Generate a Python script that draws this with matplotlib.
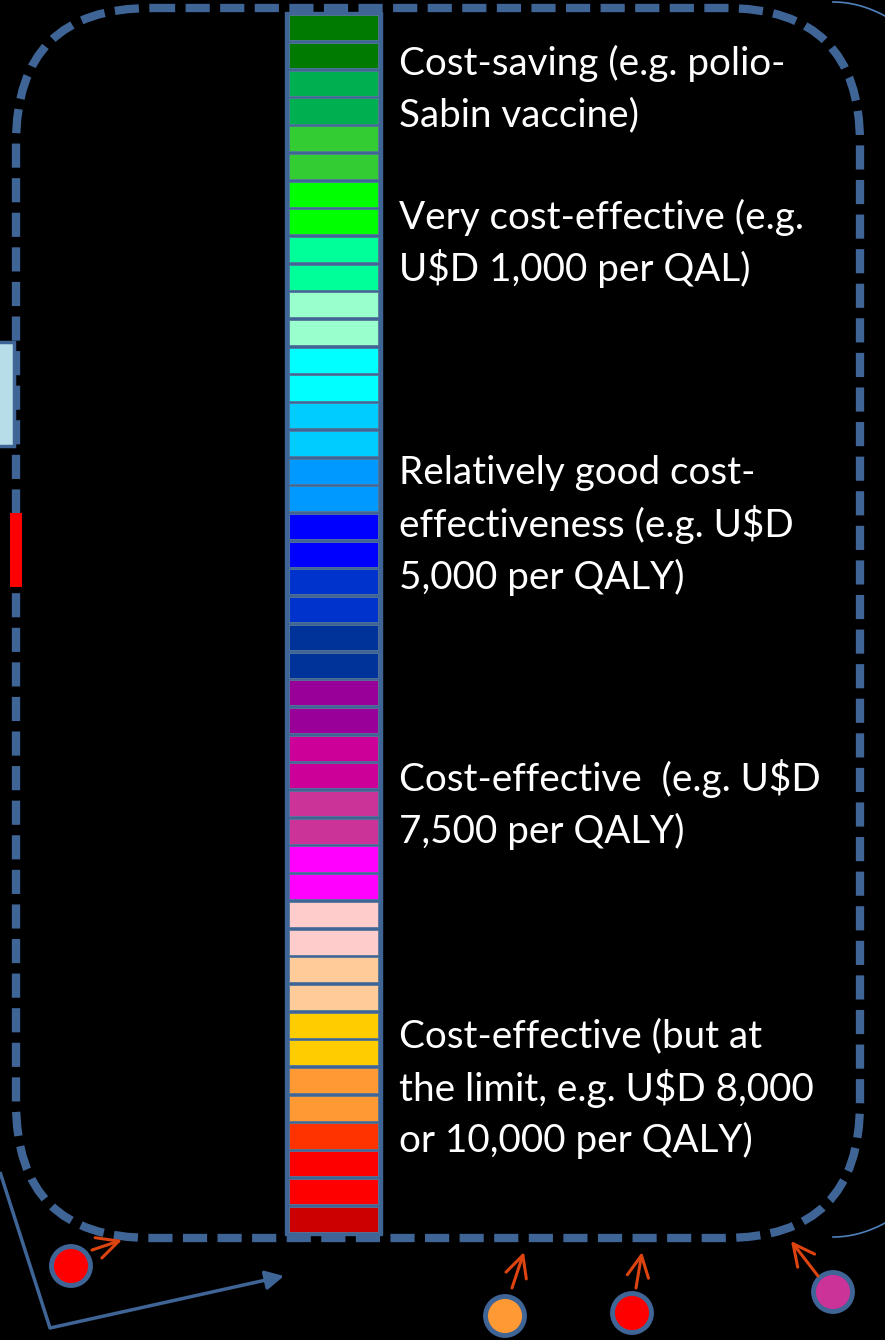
import matplotlib
matplotlib.use("Agg")
import matplotlib.pyplot as plt
from matplotlib.patches import FancyBboxPatch, Rectangle, Circle, FancyArrowPatch
import numpy as np

# ---- data ----
band_colors = [
    "#007A00", "#007A00", "#00B050", "#00B050", "#33CC33", "#33CC33",
    "#00FF00", "#00FF00", "#00FF99", "#00FF99", "#99FFCC", "#99FFCC",
    "#00FFFF", "#00FFFF", "#00CCFF", "#00CCFF", "#0099FF", "#0099FF",
    "#0000FF", "#0000FF", "#0033CC", "#0033CC", "#003399", "#003399",
    "#990099", "#990099", "#CC0099", "#CC0099", "#CC3399", "#CC3399",
    "#FF00FF", "#FF00FF", "#FFCCCC", "#FFCCCC", "#FFCC99", "#FFCC99",
    "#FFCC00", "#FFCC00", "#FF9933", "#FF9933", "#FF3300", "#FF0000",
    "#FF0000", "#CC0000",
]
label_lines = [
    ["Cost-saving (e.g. polio-", "Sabin vaccine)"],
    ["Very cost-effective (e.g.", "U$D 1,000 per QAL)"],
    ["Relatively good cost-", "effectiveness (e.g. U$D", "5,000 per QALY)"],
    ["Cost-effective  (e.g. U$D", "7,500 per QALY)"],
    ["Cost-effective (but at", "the limit, e.g. U$D 8,000", "or 10,000 per QALY)"],
]
label_first_y = [63, 217, 473, 779, 1036]
marker_colors = ["#FF0000", "#FF9933", "#FF0000", "#CC3399"]

BLUE = "#3F6496"
ARROW = "#DD4410"

W, H = 885, 1340
fig = plt.figure(figsize=(W / 100, H / 100), dpi=100, facecolor="black")
ax = fig.add_axes([0, 0, 1, 1])
ax.set_xlim(0, W)
ax.set_ylim(H, 0)
ax.set_facecolor("black")
ax.axis("off")

# dashed rounded frame
frame = FancyBboxPatch((16 + 135, 8 + 135), 844 - 270, 1230 - 270,
                       boxstyle="round,pad=135,rounding_size=135",
                       fill=False, edgecolor=BLUE, linewidth=6,
                       linestyle=(0, (2.9, 1.25)), zorder=2)
ax.add_patch(frame)

# colour bar
n = len(band_colors)
top, bottom = 14, 1233
cell_h = (bottom - top) / n
tops = top + cell_h * np.arange(n)
ax.add_patch(Rectangle((285, top - 2), 97, bottom - top + 4, facecolor=BLUE,
                       edgecolor=BLUE, linewidth=1, zorder=3))
ax.bar(333.5, cell_h - 2.6, bottom=tops + 1.3, width=89, color=band_colors,
       edgecolor="#557799", linewidth=0.6, zorder=4)

# labels
for lines, y0 in zip(label_lines, label_first_y):
    for k, s in enumerate(lines):
        ax.text(399, y0 + 52 * k, s, color="white", fontsize=27.8,
                family=["Lato", "DejaVu Sans"], va="center", ha="left", zorder=5)

# left-edge shapes
ax.add_patch(Rectangle((-5, 342), 19, 104, facecolor="#B7DEE8", edgecolor=BLUE,
                       linewidth=2.5, zorder=3))
ax.add_patch(Rectangle((10, 513), 12, 74, facecolor="#FF0000", edgecolor="none", zorder=3))

# bottom-left polyline arrow
ax.plot([0, 50], [1172, 1328], color=BLUE, lw=2.5, zorder=3, solid_capstyle="butt")
ax.add_patch(FancyArrowPatch((50, 1328), (284, 1276), arrowstyle="-|>,head_length=5,head_width=2.6",
                             color=BLUE, lw=2.5, mutation_scale=2.2, zorder=3,
                             shrinkA=0, shrinkB=0))

# markers with arrows
circ_xy = [(71, 1266), (505, 1316), (632, 1313), (833, 1292)]
arrow_seg = [((92, 1250), (122, 1240)), ((512, 1288), (524, 1252)),
             ((636, 1288), (642, 1252)), ((818, 1276), (791, 1241))]
for (cx, cy), c in zip(circ_xy, marker_colors):
    ax.add_patch(Circle((cx, cy), 19.5, facecolor=c, edgecolor=BLUE, linewidth=3.5, zorder=5))
for (p0, p1) in arrow_seg:
    ax.add_patch(FancyArrowPatch(p0, p1, arrowstyle="->,head_length=7,head_width=3.5",
                                 color=ARROW, lw=2.2, mutation_scale=2.2, zorder=5,
                                 shrinkA=0, shrinkB=0))

# thin brackets at right
t = np.linspace(0, 1, 30)
ax.plot(833 + 52 * t, 2 + 14 * t ** 2, color="#4F81BD", lw=1.2, zorder=3)
ax.plot(833 + 52 * t, 1237 - 14 * t ** 2, color="#4F81BD", lw=1.2, zorder=3)

fig.savefig("out.png", dpi=100, facecolor="black")
